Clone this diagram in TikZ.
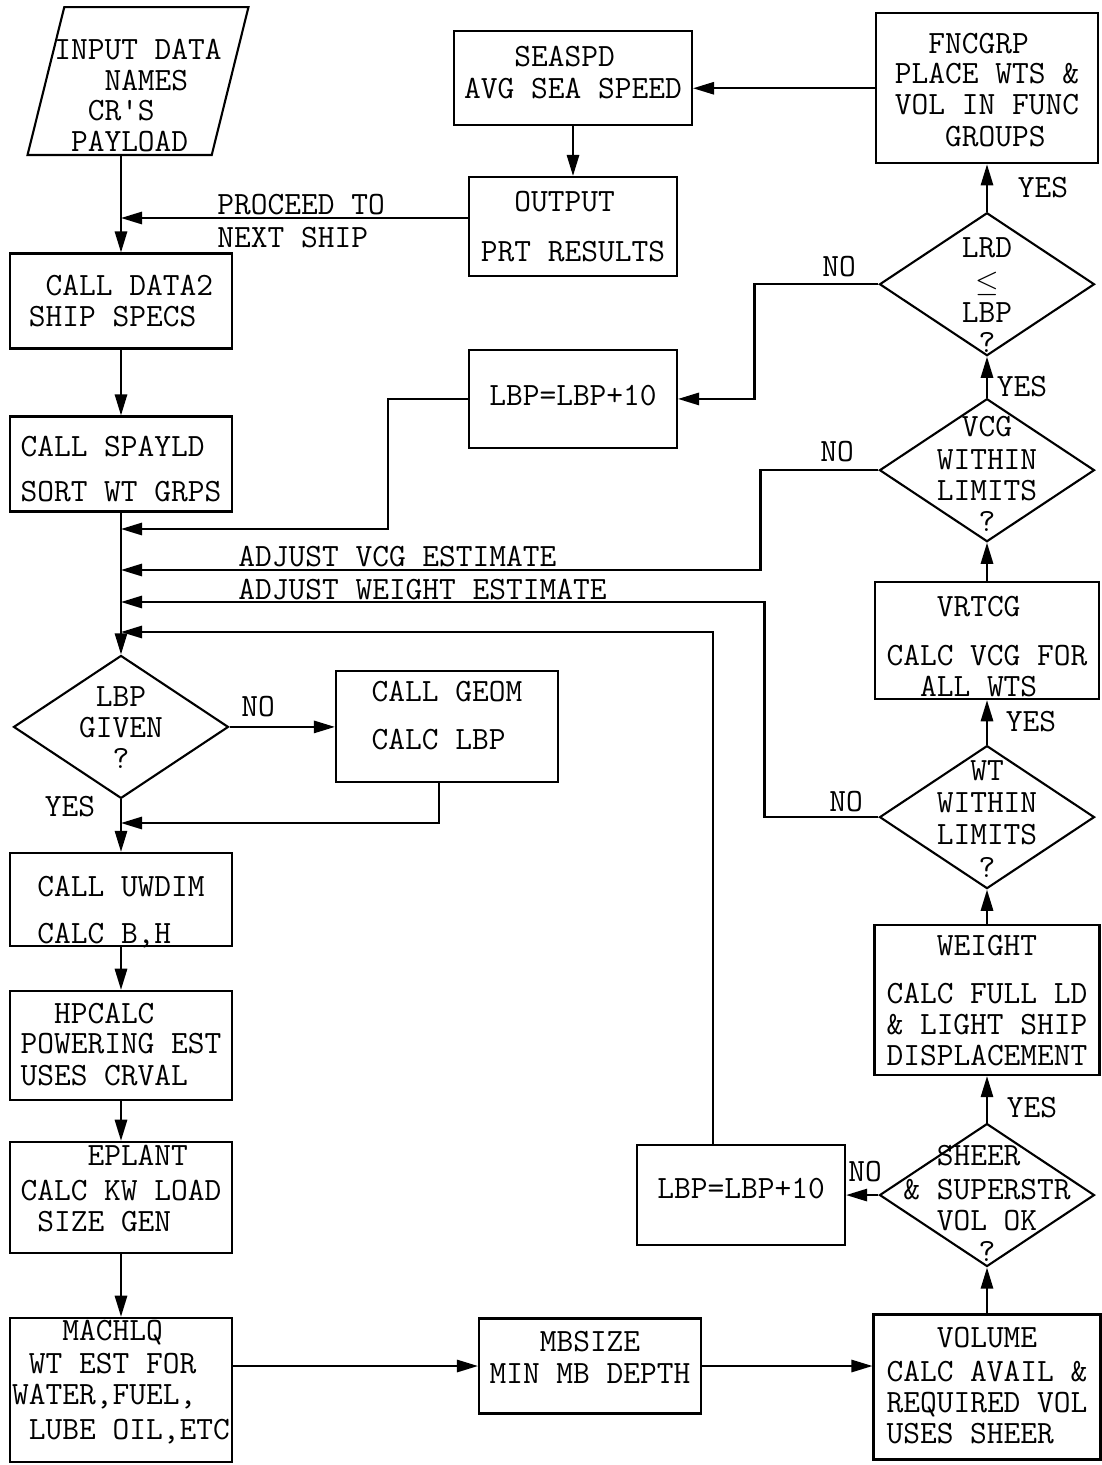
\documentclass[tikz,border=0pt]{standalone}
\usetikzlibrary{shapes.geometric,arrows.meta,positioning}

% text set in a box of no size, so that a shape keeps its own size
\newcommand{\dtxt}[3][0cm]{\raisebox{#1}[0pt][0pt]{\makebox[0pt]{\begin{tabular}{@{}#2@{}}#3\end{tabular}}}}

\tikzstyle{block} = [rectangle, draw, line width=1.2pt, minimum width=4.44cm, minimum height=1.9cm, inner sep=0pt, font=\ttfamily\fontsize{18.5}{17.5}\selectfont]
\tikzstyle{decision} = [diamond, draw, line width=1.2pt, minimum width=4.3cm, minimum height=2.86cm, inner sep=0pt, font=\ttfamily\fontsize{18.5}{17.5}\selectfont]
\tikzstyle{io} = [trapezium, trapezium left angle=76, trapezium right angle=104, trapezium stretches=true, draw, line width=1.2pt, minimum width=4.42cm, minimum height=2.96cm, inner sep=2pt, font=\ttfamily\fontsize{18.5}{17.5}\selectfont]
\tikzstyle{tag} = [inner sep=0pt, font=\ttfamily\fontsize{18.5}{17.5}\selectfont]
\tikzstyle{line} = [draw, -{Triangle[length=12pt,width=7pt]}, line width=1.2pt]

\begin{document}
\begin{tikzpicture}[x=0.02cm, y=-0.02cm, node distance=2cm]
    \useasboundingbox (0,0) rectangle (1102,1465);

    % DATA2
    \node [block] (data2) at (121,301) {\dtxt[-0.23cm]{l}{~CALL DATA2\\SHIP SPECS}};
    % input data
    \node [io, above of=data2, node distance=4.4cm, xshift=0.34cm
            ] (input) {\dtxt[-0.52cm]{l}{INPUT DATA\\~~~NAMES\\~~CR\textquotesingle S\\~PAYLOAD}};
    % SPAYLD
    \node [block, below of=data2, node distance=3.26cm
            ] (spayld) {\dtxt[-0.33cm]{l}{CALL SPAYLD\\[0.28cm]SORT WT GRPS}};
    % LBP given ?
    \node [decision, below of=spayld, node distance=5.26cm
            ] (given) {\dtxt[-0.24cm]{c}{LBP\\[0.02cm]GIVEN\\?}};
    % GEOM
    \node [block, right of=given, node distance=6.52cm, minimum height=2.22cm
            ] (geom) {\dtxt{l}{CALL GEOM\\[0.34cm]CALC LBP}};
    % UWDIM
    \node [block, below of=given, node distance=3.45cm, minimum height=1.86cm
            ] (uwdim) {\dtxt[-0.44cm]{l}{CALL UWDIM\\[0.32cm]CALC B,H}};
    % HPCALC
    \node [block, below of=uwdim, node distance=2.92cm, minimum height=2.18cm
            ] (hpcalc) {\dtxt[-0.21cm]{l}{~~HPCALC\\POWERING EST\\[0.02cm]USES CRVAL}};
    % EPLANT
    \node [block, below of=hpcalc, node distance=3.04cm, minimum height=2.22cm
            ] (eplant) {\dtxt[-0.05cm]{l}{~~~~EPLANT\\[0.1cm]CALC KW LOAD\\~SIZE GEN}};
    % MACHLQ
    \node [block, below of=eplant, node distance=3.85cm, minimum height=2.88cm
            ] (machlq) {\dtxt[-0.03cm]{l}{~~~MACHLQ\\[0.06cm]~WT EST FOR\\WATER,FUEL,\\[0.08cm]~LUBE OIL,ETC}};

    % MBSIZE
    \node [block, minimum height=1.9cm] (mbsize) at (590,1366) {\dtxt[-0.06cm]{l}{~~~MBSIZE\\[0.02cm]MIN MB DEPTH}};
    % VOLUME
    \node [block, minimum width=4.54cm, minimum height=2.9cm
            ] (volume) at (987,1387) {\dtxt[-0.2cm]{l}{~~~VOLUME\\[0.06cm]CALC AVAIL \&\\REQUIRED VOL\\USES SHEER}};
    % sheer ?
    \node [decision, above of=volume, node distance=3.84cm
            ] (sheer) {\dtxt[-0.4cm]{c}{~~SHEER\hphantom{SSS}\\[0.06cm]\&~SUPERSTR\\~~VOL~OK\hphantom{SS}\\?}};
    % WEIGHT
    \node [block, above of=sheer, node distance=3.9cm, minimum width=4.5cm, minimum height=3cm
            ] (weight) {\dtxt[-0.23cm]{l}{~~~WEIGHT\\[0.36cm]CALC FULL LD\\\& LIGHT SHIP\\DISPLACEMENT}};
    % WT ?
    \node [decision, above of=weight, node distance=3.66cm
            ] (wt) {\dtxt[-0.26cm]{c}{WT\\[0.04cm]WITHIN\\[0.02cm]LIMITS\\[0.04cm]?}};
    % VRTCG
    \node [block, above of=wt, node distance=3.53cm, minimum width=4.48cm, minimum height=2.34cm
            ] (vrtcg) {\dtxt[-0.35cm]{l}{~~~VRTCG\\[0.36cm]CALC VCG FOR\\~~ALL WTS}};
    % VCG ?
    \node [decision, above of=vrtcg, node distance=3.41cm
            ] (vcg) {\dtxt[-0.3cm]{c}{VCG\\[0.06cm]WITHIN\\LIMITS\\?}};
    % LRD ?
    \node [decision, above of=vcg, node distance=3.72cm
            ] (lrd) {\dtxt[-0.44cm]{c}{LRD\\[0.08cm]$\le$\\LBP\\[-0.02cm]?}};
    % FNCGRP
    \node [block, above of=lrd, node distance=3.92cm, minimum height=3cm
            ] (fncgrp) {\dtxt[-0.26cm]{l}{~~FNCGRP\\PLACE WTS \&\\VOL IN FUNC\\[0.02cm]~~~GROUPS}};

    % SEASPD
    \node [block, minimum width=4.76cm, minimum height=1.88cm
            ] (seaspd) at (573,78) {\dtxt[-0.12cm]{l}{~~~SEASPD\\[0.02cm]AVG SEA SPEED}};
    % OUTPUT
    \node [block, below of=seaspd, node distance=2.97cm, minimum width=4.16cm, minimum height=1.98cm
            ] (output) {\dtxt[-0.23cm]{l}{~~OUTPUT\\[0.38cm]PRT RESULTS}};
    % LBP+10 upper
    \node [block, below of=output, node distance=3.45cm, minimum width=4.16cm, minimum height=1.96cm
            ] (lbpa) {\dtxt[-0.16cm]{l}{LBP=LBP+10}};
    % LBP+10 lower
    \node [block, left of=sheer, node distance=4.92cm, minimum width=4.16cm, minimum height=2cm
            ] (lbpb) {\dtxt[-0.1cm]{l}{LBP=LBP+10}};

    % labels
    \node [tag] (yes1) at (1043,188) {YES};
    \node [tag] (no1) at (839,267) {NO};
    \node [tag] (yes2) at (1022,387) {YES};
    \node [tag] (no2) at (837,452) {NO};
    \node [tag] (yes3) at (1031,722) {YES};
    \node [tag] (no3) at (846,802) {NO};
    \node [tag] (yes4) at (1032,1108) {YES};
    \node [tag] (no4) at (865,1172) {NO};
    \node [tag] (no5) at (258,707) {NO};
    \node [tag] (yes5) at (70,807) {YES};
    \node [tag, anchor=west, align=left] (proceed) at (217,221) {PROCEED TO\\[0.04cm]NEXT SHIP};
    \node [tag, anchor=west] (adjvcg) at (238,557) {ADJUST VCG ESTIMATE};
    \node [tag, anchor=west] (adjwt) at (238,590) {ADJUST WEIGHT ESTIMATE};

    % joints on the main line
    \coordinate (jout) at (121,218);
    \coordinate (jlbp) at (121,529);
    \coordinate (jvcg) at (121,570);
    \coordinate (jwt) at (121,602);
    \coordinate (jvol) at (121,632);
    \coordinate (jgeom) at (121,823);

    % Path
    \path[line] (data2.north |- input.south) -- (data2.north);
    \path[line] (output.west |- jout) -- (jout);
    \path[line] (seaspd) -- (output);
    \path[line] (fncgrp.west) -- (fncgrp.west -| seaspd.east);
    \path[line] (data2) -- (spayld);
    \path[line] (spayld) -- (given);
    \path[line] (given) -- (geom);
    \path[line] ([xshift=-0.16cm]geom.south) |- (jgeom);
    \path[line] (given) -- (uwdim);
    \path[line] (uwdim) -- (hpcalc);
    \path[line] (hpcalc) -- (eplant);
    \path[line] (eplant) -- (machlq);
    \path[line] (machlq.east |- mbsize) -- (mbsize);
    \path[line] (mbsize.east) -- (mbsize.east -| volume.west);
    \path[line] (volume) -- (sheer);
    \path[line] (sheer) -- (lbpb);
    \path[line] ([xshift=-0.56cm]lbpb.north) |- (jvol);
    \path[line] (sheer) -- (weight);
    \path[line] (weight) -- (wt);
    \path[line] (wt.west) -- ++(-114,0) |- (jwt);
    \path[line] (wt) -- (vrtcg);
    \path[line] (vrtcg) -- (vcg);
    \path[line] (vcg.west) -- ++(-118,0) |- (jvcg);
    \path[line] (vcg) -- (lrd);
    \path[line] (lrd.west) -- ++(-124,0) |- (lbpa.east);
    \path[line] (lbpa.west) -- ++(-80,0) |- (jlbp);
    \path[line] (lrd) -- (fncgrp);

\end{tikzpicture}
\end{document}
